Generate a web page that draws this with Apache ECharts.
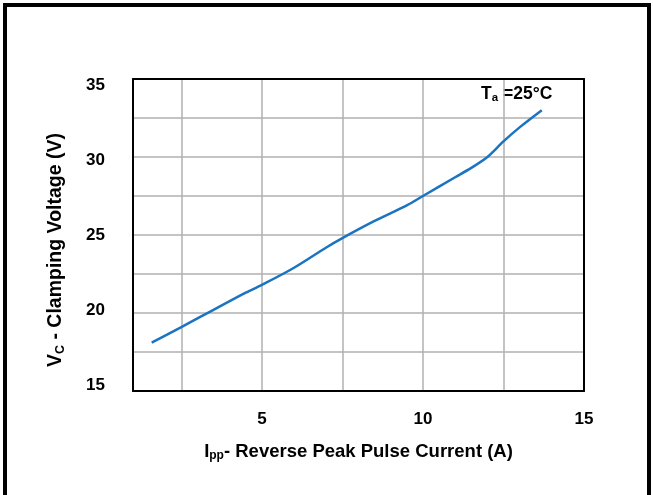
<!DOCTYPE html>
<html><head><meta charset="utf-8">
<script src="https://cdn.jsdelivr.net/npm/echarts@6/dist/echarts.min.js"></script>
<style>html,body{margin:0;padding:0;background:#fff}#c{width:653px;height:495px}</style>
</head><body><div id="c"></div>
<script>
// Data
const currentA = [1.58, 2.5, 3.5, 4.5, 5, 6, 7, 7.5, 8.5, 9.5, 10, 11, 11.5, 12, 12.5, 13, 13.69];
const clampV   = [18.1, 19.1, 20.2, 21.3, 21.8, 22.9, 24.2, 24.8, 25.9, 26.9, 27.5, 28.7, 29.3, 30.0, 31.0, 31.9, 33.0];
const xTickLabels = [5, 10, 15];
const xGridValues = [2.5, 5, 7.5, 10, 12.5];
const yTickLabels = [15, 20, 25, 30, 35];

const FONT = '"Liberation Sans", Arial, sans-serif';
const chart = echarts.init(document.getElementById('c'), null, {renderer: 'canvas'});
const pts = currentA.map((x, i) => [x, clampV[i]]);

chart.setOption({
  animation: false,
  backgroundColor: '#fff',
  textStyle: {fontFamily: FONT},
  grid: {left: 133, right: 69, top: 79, bottom: 104, containLabel: false},
  xAxis: [
    {type: 'value', min: 1, max: 15, position: 'bottom',
     axisLine: {show: true, onZero: false, lineStyle: {color: '#000', width: 2}},
     axisTick: {show: false, customValues: xGridValues},
     splitLine: {show: true, lineStyle: {color: '#b0b0b0', width: 1.5}},
     axisLabel: {customValues: xTickLabels, margin: 20, color: '#000', fontWeight: 'bold', fontSize: 17, fontFamily: FONT},
     name: 'I{s|pp}- Reverse Peak Pulse Current (A)', nameLocation: 'middle', nameGap: 50,
     nameTextStyle: {color: '#000', fontWeight: 'bold', fontSize: 18.5, fontFamily: FONT,
       rich: {s: {fontSize: 12, fontWeight: 'bold', verticalAlign: 'bottom', padding: [9,0,0,0], fontFamily: FONT}}}
    },
    {type: 'value', min: 1, max: 15, position: 'top',
     axisLine: {show: true, onZero: false, lineStyle: {color: '#000', width: 2}},
     axisTick: {show: false}, axisLabel: {show: false}, splitLine: {show: false}}
  ],
  yAxis: [
    {type: 'value', min: 15, max: 35, interval: 2.5, position: 'left',
     axisLine: {show: true, onZero: false, lineStyle: {color: '#000', width: 2}},
     axisTick: {show: false}, axisLabel: {show: false},
     splitLine: {show: true, lineStyle: {color: '#b0b0b0', width: 1.5}}},
    {type: 'value', min: 15, max: 35, position: 'right',
     axisLine: {show: true, onZero: false, lineStyle: {color: '#000', width: 2}},
     axisTick: {show: false}, axisLabel: {show: false}, splitLine: {show: false}},
    {type: 'value', min: 14.6, max: 35.4, position: 'left',
     axisLine: {show: false}, axisTick: {show: false}, splitLine: {show: false},
     axisLabel: {customValues: yTickLabels, margin: 28, color: '#000', fontWeight: 'bold', fontSize: 17, fontFamily: FONT},
     name: 'V{s|C} - Clamping Voltage (V)', nameLocation: 'middle', nameGap: 66, nameRotate: 90,
     nameTextStyle: {color: '#000', fontWeight: 'bold', fontSize: 19.5, fontFamily: FONT, padding: [0, 30, 0, 0],
       rich: {s: {fontSize: 12.5, fontWeight: 'bold', verticalAlign: 'bottom', padding: [9,0,0,0], fontFamily: FONT}}}
    }
  ],
  series: [{
    type: 'line', xAxisIndex: 0, yAxisIndex: 0, data: pts, showSymbol: false, smooth: 0.3,
    lineStyle: {color: '#1a74c2', width: 2.5}, z: 5
  }],
  graphic: [
    {type: 'rect', shape: {x: 5, y: 5, width: 644, height: 510}, style: {fill: 'none', stroke: '#000', lineWidth: 4}, silent: true},
    {type: 'text', left: 481, top: 85, style: {
      text: '{t|T}{s|a}{t| =25°C}',
      rich: {t: {fontSize: 17.5, fontWeight: 'bold', fontFamily: FONT, fill: '#000'},
             s: {fontSize: 11.5, fontWeight: 'bold', fontFamily: FONT, fill: '#000', verticalAlign: 'bottom', padding: [8,0,0,0]}}
    }}
  ]
});
</script></body></html>
